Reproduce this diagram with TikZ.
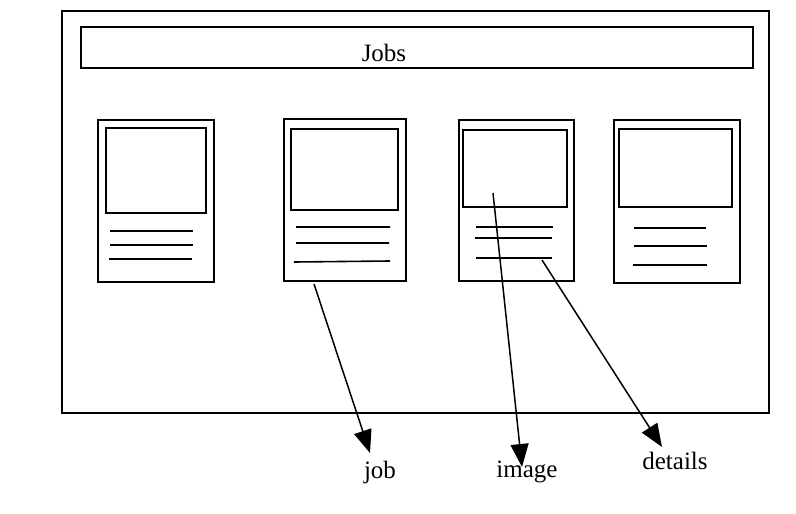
\documentclass[tikz,border=0pt]{standalone}
\usepackage{fontspec}
\setmainfont{Liberation Serif}
\usetikzlibrary{arrows.meta}
\begin{document}
\begin{tikzpicture}[x=1pt,y=-1pt,
  box/.style={draw,line width=1.6pt,inner sep=0pt,minimum width=#1},
  ln/.style={line width=1.6pt},
  arr/.style={line width=1.5pt,-{Triangle[length=23pt,width=18pt]}},
  lbl/.style={font=\fontsize{25}{29}\selectfont,inner sep=0pt}]
\useasboundingbox (0,0) rectangle (796,514);
\node[box=707pt,minimum height=402pt] (frame) at (415.5,212) {};
\node[box=672pt,minimum height=41pt] (header) at (417,47.5) {};
\node[lbl] (jobs) at (384,53) {Jobs};
% cards
\node[box=116pt,minimum height=162pt] (c1) at (156,201) {};
\node[box=100pt,minimum height=85pt] (i1) at (156,170.5) {};
\node[box=122pt,minimum height=162pt] (c2) at (345,200) {};
\node[box=107pt,minimum height=81pt] (i2) at (344.5,169.5) {};
\node[box=115pt,minimum height=161pt] (c3) at (516.5,200.5) {};
\node[box=104pt,minimum height=77pt] (i3) at (515,168.5) {};
\node[box=126pt,minimum height=163pt] (c4) at (677,201.5) {};
\node[box=113pt,minimum height=78pt] (i4) at (675.5,168) {};
% text lines
\draw[ln] (110,231) -- (193,231) (110,245) -- (193,245) (109,259) -- (192,259);
\draw[ln] (296,227) -- (390,227) (296,243) -- (389,243) (294,262) -- (390,261);
\draw[ln] (476,227) -- (553,227) (475,238) -- (552,238) (476,258) -- (552,258);
\draw[ln] (634,228) -- (706,228) (634,246) -- (707,246) (633,265) -- (707,265);
% arrows
\coordinate (sjob) at (314,284);
\coordinate (simg) at (493,193);
\coordinate (sdet) at (542,260);
\coordinate (tjob) at (370,453);
\coordinate (timg) at (522,467);
\coordinate (tdet) at (662,447);
\draw[arr] (sjob) -- (tjob);
\draw[arr] (simg) -- (timg);
\draw[arr] (sdet) -- (tdet);
\node[lbl] (job) at (380,472) {job};
\node[lbl] (image) at (527,472) {image};
\node[lbl] (details) at (675,461) {details};
\end{tikzpicture}
\end{document}
